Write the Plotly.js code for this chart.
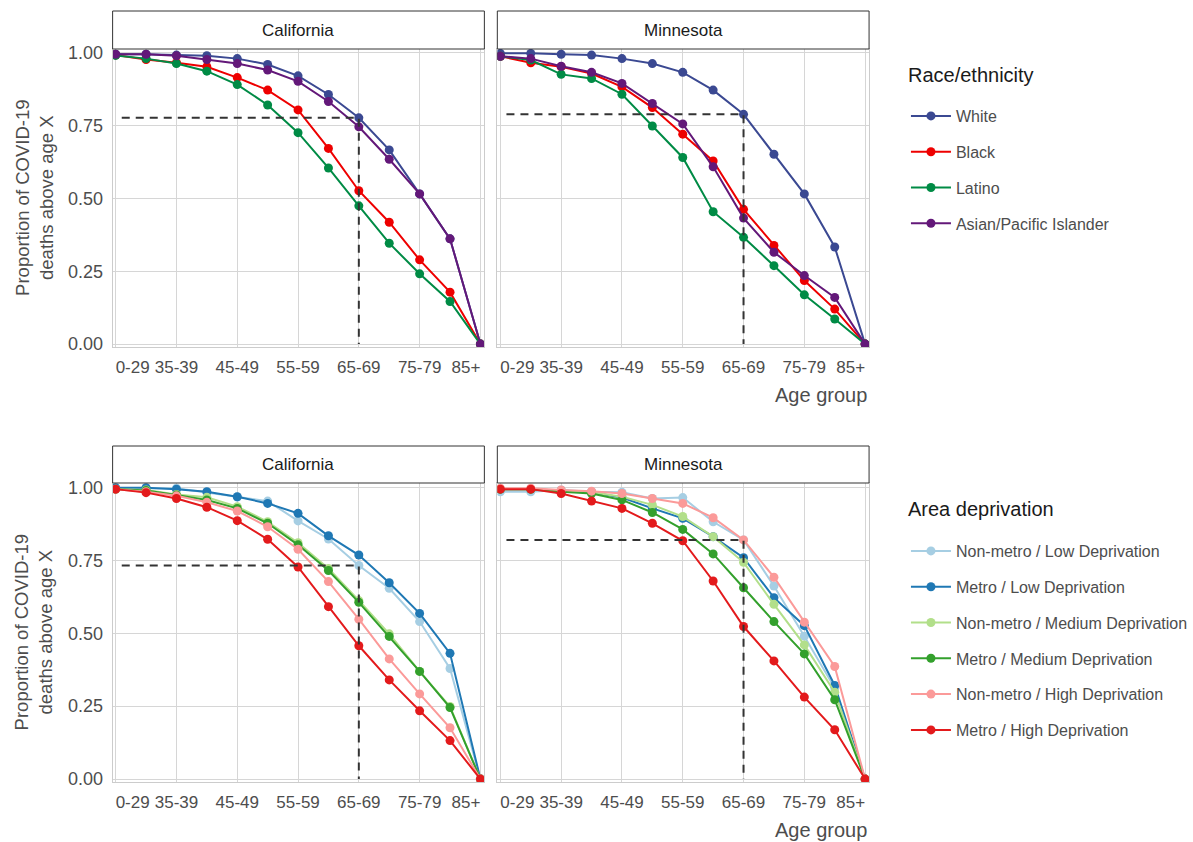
<!DOCTYPE html>
<html>
<head>
<meta charset="utf-8">
<script src="https://cdn.plot.ly/plotly-3.0.1.min.js"></script>
<style>html,body{margin:0;padding:0;background:#fff;}#chart{width:1193px;height:842px;}</style>
</head>
<body>
<div id="chart"></div>
<script>
// ---------- data ----------
const ageGroups = ['0-29','30-34','35-39','40-44','45-49','50-54','55-59','60-64','65-69','70-74','75-79','80-84','85+'];
const tickLabels = ['0-29','35-39','45-49','55-59','65-69','75-79','85+'];
const states = ['California','Minnesota'];
const refAge = '65-69';

const raceGroups = ['White','Black','Latino','Asian/Pacific Islander'];
const raceColors = ['#3B4992','#EE0000','#008B45','#631879'];
// California
const caWhite  = [0.994,0.994,0.991,0.989,0.979,0.959,0.920,0.856,0.776,0.666,0.515,0.361,0];
const caBlack  = [0.991,0.976,0.965,0.951,0.914,0.871,0.803,0.671,0.526,0.418,0.289,0.178,0];
const caLatino = [0.990,0.979,0.962,0.936,0.890,0.820,0.725,0.604,0.474,0.346,0.241,0.146,0];
const caAsian  = [0.994,0.994,0.989,0.976,0.962,0.940,0.901,0.832,0.745,0.634,0.515,0.361,0];
// Minnesota
const mnWhite  = [0.997,0.997,0.994,0.991,0.979,0.962,0.932,0.871,0.788,0.651,0.515,0.333,0];
const mnBlack  = [0.987,0.965,0.951,0.928,0.882,0.811,0.720,0.628,0.462,0.338,0.218,0.120,0];
const mnLatino = [0.987,0.974,0.925,0.911,0.857,0.748,0.640,0.454,0.366,0.269,0.169,0.086,0];
const mnAsian  = [0.987,0.979,0.953,0.932,0.894,0.825,0.755,0.608,0.432,0.315,0.235,0.160,0];

const areaGroups = ['Non-metro / Low Deprivation','Metro / Low Deprivation','Non-metro / Medium Deprivation','Metro / Medium Deprivation','Non-metro / High Deprivation','Metro / High Deprivation'];
const areaColors = ['#A6CEE3','#1F78B4','#B2DF8A','#33A02C','#FB9A99','#E31A1C'];
// California
const caNmLow  = [0.994,0.997,0.997,0.983,0.967,0.953,0.885,0.823,0.732,0.654,0.540,0.379,0];
const caMLow   = [0.999,0.999,0.994,0.985,0.968,0.945,0.911,0.834,0.768,0.673,0.568,0.431,0];
const caNmMed  = [0.994,0.991,0.976,0.966,0.934,0.882,0.810,0.722,0.612,0.498,0.369,0.249,0];
const caMMed   = [0.994,0.989,0.974,0.957,0.928,0.877,0.803,0.715,0.606,0.489,0.369,0.245,0];
const caNmHigh = [0.994,0.985,0.971,0.949,0.919,0.865,0.788,0.677,0.548,0.412,0.292,0.176,0];
const caMHigh  = [0.994,0.982,0.962,0.932,0.886,0.822,0.727,0.591,0.457,0.340,0.234,0.132,0];
// Minnesota
const mnNmLow  = [0.985,0.985,0.991,0.985,0.983,0.962,0.965,0.882,0.820,0.662,0.490,0.312,0];
const mnMLow   = [0.994,0.994,0.989,0.983,0.965,0.928,0.894,0.831,0.759,0.622,0.526,0.321,0];
const mnNmMed  = [0.994,0.994,0.989,0.983,0.968,0.940,0.900,0.831,0.743,0.599,0.460,0.298,0];
const mnMMed   = [0.994,0.994,0.985,0.979,0.957,0.914,0.856,0.772,0.656,0.540,0.429,0.272,0];
const mnNmHigh = [0.997,0.997,0.991,0.987,0.979,0.962,0.945,0.896,0.820,0.692,0.538,0.386,0];
const mnMHigh  = [0.994,0.994,0.979,0.953,0.928,0.877,0.817,0.679,0.523,0.405,0.281,0.169,0];

const raceData = [[caWhite,caBlack,caLatino,caAsian],[mnWhite,mnBlack,mnLatino,mnAsian]];
const areaData = [[caNmLow,caMLow,caNmMed,caMMed,caNmHigh,caMHigh],[mnNmLow,mnMLow,mnNmMed,mnMMed,mnNmHigh,mnMHigh]];

// ---------- build ----------
const W = 1193, H = 842;
const xIdx = ageGroups.map((_, i) => i);
const refIdx = ageGroups.indexOf(refAge);
const FONT = '"Liberation Sans", Arial, sans-serif';

const traces = [];
function addPanel(sets, names, colors, axNum, showLegend, legendId) {
  const xa = 'x' + (axNum === 1 ? '' : axNum), ya = 'y' + (axNum === 1 ? '' : axNum);
  sets.forEach((vals, k) => {
    traces.push({
      type: 'scatter', mode: 'lines+markers', x: xIdx, y: vals, xaxis: xa, yaxis: ya,
      name: names[k], legendgroup: legendId + names[k], showlegend: showLegend, legend: legendId,
      line: {color: colors[k], width: 2}, marker: {color: colors[k], size: 9},
      hovertemplate: names[k] + ': %{y:.3f}<extra></extra>'
    });
  });
  const refVal = sets[0][refIdx];
  traces.push({
    type: 'scatter', mode: 'lines', x: [0.2, refIdx, refIdx], y: [refVal, refVal, 0],
    xaxis: xa, yaxis: ya, showlegend: false, hoverinfo: 'skip',
    line: {color: '#333333', width: 2, dash: '8px,6px'}
  });
}
addPanel(raceData[0], raceGroups, raceColors, 1, true, 'legend');
addPanel(raceData[1], raceGroups, raceColors, 2, false, 'legend');
addPanel(areaData[0], areaGroups, areaColors, 3, true, 'legend2');
addPanel(areaData[1], areaGroups, areaColors, 4, false, 'legend2');

// panel geometry in pixels
const colsPx = [[113, 486], [499, 872]];
const rowsPx = [[49, 347], [483, 782]];
const stripPx = [[11, 49], [446, 483]];
const yRanges = [[-0.01, 1.012], [-0.01, 1.015]];

const layout = {
  width: W, height: H, margin: {l: 0, r: 0, t: 0, b: 0},
  paper_bgcolor: '#fff', plot_bgcolor: '#fff',
  font: {family: FONT, color: '#4d4d4d', size: 16},
  shapes: [], annotations: []
};
for (let r = 0; r < 2; r++) {
  for (let c = 0; c < 2; c++) {
    const n = r * 2 + c + 1;
    const sfx = n === 1 ? '' : n;
    layout['xaxis' + sfx] = {
      domain: [colsPx[c][0] / W, colsPx[c][1] / W], anchor: 'y' + sfx,
      range: [-0.1, 12.13], tickmode: 'array',
      tickvals: tickLabels.map(t => ageGroups.indexOf(t)), ticktext: tickLabels,
      showgrid: true, gridcolor: '#d6d6d6', gridwidth: 1, zeroline: false,
      showline: true, mirror: true, linecolor: '#cccccc', linewidth: 1,
      ticks: '', tickfont: {size: 17, color: '#4d4d4d', family: FONT}, ticklabelstandoff: 5
    };
    layout['yaxis' + sfx] = {
      domain: [1 - rowsPx[r][1] / H, 1 - rowsPx[r][0] / H], anchor: 'x' + sfx,
      range: yRanges[r], tickmode: 'array', tickvals: [0, 0.25, 0.5, 0.75, 1],
      ticktext: ['0.00', '0.25', '0.50', '0.75', '1.00'], showticklabels: c === 0,
      showgrid: true, gridcolor: '#d6d6d6', gridwidth: 1, zeroline: false,
      showline: true, mirror: true, linecolor: '#cccccc', linewidth: 1,
      ticks: '', tickfont: {size: 18, color: '#4d4d4d', family: FONT}, ticklabelstandoff: 5
    };
    // strip
    layout.shapes.push({
      type: 'rect', xref: 'paper', yref: 'paper',
      x0: colsPx[c][0] / W, x1: colsPx[c][1] / W,
      y0: 1 - stripPx[r][1] / H, y1: 1 - stripPx[r][0] / H,
      fillcolor: '#ffffff', line: {color: '#333333', width: 1}
    });
    layout.annotations.push({
      xref: 'paper', yref: 'paper', x: (colsPx[c][0] + colsPx[c][1]) / 2 / W,
      y: 1 - (stripPx[r][0] + stripPx[r][1]) / 2 / H, text: states[c], showarrow: false,
      xanchor: 'center', yanchor: 'middle', font: {size: 17, color: '#1a1a1a', family: FONT}
    });
  }
  // y title
  layout.annotations.push({
    xref: 'paper', yref: 'paper', x: 34 / W, y: 1 - (rowsPx[r][0] + rowsPx[r][1]) / 2 / H,
    text: 'Proportion of COVID-19<br>deaths above age X', textangle: -90, showarrow: false,
    xanchor: 'center', yanchor: 'middle', font: {size: 18.5, color: '#4d4d4d', family: FONT}
  });
  // x title
  layout.annotations.push({
    xref: 'paper', yref: 'paper', x: 872 / W, y: 1 - (r === 0 ? 395 : 830) / H,
    text: 'Age group', showarrow: false, xanchor: 'right', yanchor: 'middle',
    font: {size: 20, color: '#4d4d4d', family: FONT}
  });
}
// legend titles
[['Race/ethnicity', 75], ['Area deprivation', 509]].forEach(([t, yy]) => {
  layout.annotations.push({
    xref: 'paper', yref: 'paper', x: 909 / W, y: 1 - yy / H, text: t, showarrow: false,
    xanchor: 'left', yanchor: 'middle', font: {size: 20, color: '#1a1a1a', family: FONT}
  });
});
const legendBase = {
  xref: 'paper', yref: 'paper', xanchor: 'left', yanchor: 'top',
  bgcolor: 'rgba(0,0,0,0)', borderwidth: 0, tracegroupgap: 12, itemwidth: 40,
  font: {size: 16, color: '#4d4d4d', family: FONT}, itemclick: false, itemdoubleclick: false
};
layout.legend = Object.assign({}, legendBase, {x: 909 / W, y: 1 - 99 / H});
layout.legend2 = Object.assign({}, legendBase, {x: 909 / W, y: 1 - 534 / H});

Plotly.newPlot('chart', traces, layout, {displayModeBar: false, staticPlot: true}).then(gd => {
  // first label left-aligned to its tick, last label right-aligned (as in the original)
  ['x', 'x2', 'x3', 'x4'].forEach(id => {
    const els = gd.querySelectorAll('g.' + id + 'tick text');
    if (els.length) {
      els[0].setAttribute('text-anchor', 'start');
      els[els.length - 1].setAttribute('text-anchor', 'end');
    }
  });
});
</script>
</body>
</html>
